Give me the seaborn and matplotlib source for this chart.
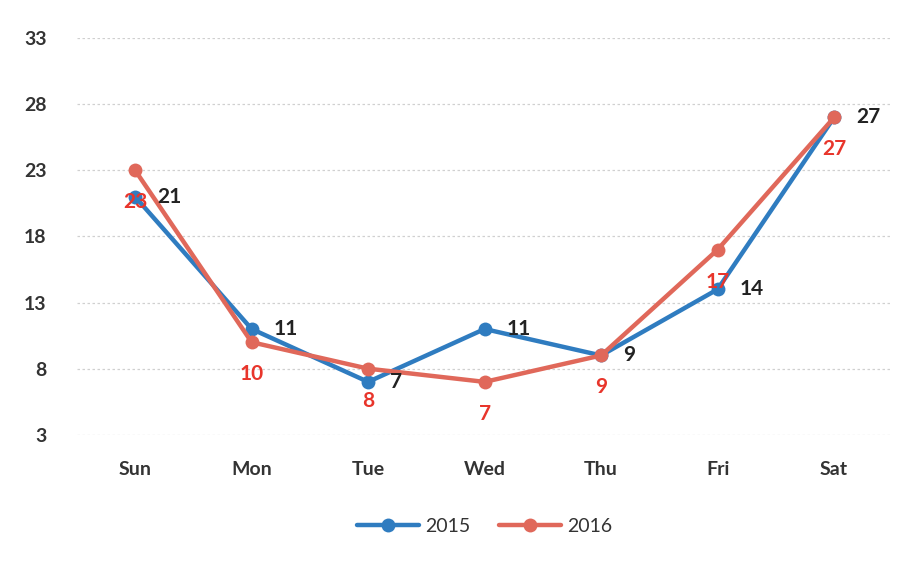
import matplotlib
matplotlib.use("Agg")
import matplotlib.pyplot as plt
import seaborn as sns
import pandas as pd

days = ["Sun", "Mon", "Tue", "Wed", "Thu", "Fri", "Sat"]
values_2015 = [21, 11, 7, 11, 9, 14, 27]
values_2016 = [23, 10, 8, 7, 9, 17, 27]
y_ticks = [3, 8, 13, 18, 23, 28, 33]

df = pd.DataFrame({
    "day": days * 2,
    "value": values_2015 + values_2016,
    "year": ["2015"] * len(days) + ["2016"] * len(days),
})

sns.set_theme(style="white")
plt.rcParams["font.family"] = ["Lato", "DejaVu Sans"]

fig = plt.figure(figsize=(9.05, 5.61), dpi=100)
ax = fig.add_axes([0.085, 0.225, 0.901, 0.707])

palette = {"2015": "#2f7cc0", "2016": "#e0685a"}
sns.lineplot(data=df, x="day", y="value", hue="year", palette=palette,
             marker="o", markersize=10, markeredgewidth=0, linewidth=3.2,
             sort=False, ax=ax)

ax.set_xlim(-0.5, len(days) - 0.5)
ax.set_ylim(3, 33)
ax.set_yticks(y_ticks)
ax.set_yticklabels([str(t) for t in y_ticks])
ax.set_xlabel("")
ax.set_ylabel("")
ax.grid(axis="y", color="#d0d0d0", linestyle=(0, (2, 2)), linewidth=0.9)
ax.grid(axis="x", visible=False)
for s in ax.spines.values():
    s.set_visible(False)
ax.tick_params(axis="y", length=0, pad=22, labelsize=14, labelcolor="#333333")
ax.tick_params(axis="x", length=0, pad=19, labelsize=14, labelcolor="#333333")
for lbl in ax.get_xticklabels() + ax.get_yticklabels():
    lbl.set_fontweight("bold")

# value labels: 2015 to the right of each point, 2016 below
for i, v in enumerate(values_2015):
    ax.annotate(str(v), (i, v), xytext=(16, 0), textcoords="offset points",
                ha="left", va="center", fontsize=15, fontweight="bold",
                color="#222222")
for i, v in enumerate(values_2016):
    ax.annotate(str(v), (i, v), xytext=(0, -23), textcoords="offset points",
                ha="center", va="center", fontsize=15, fontweight="bold",
                color="#e8352b")

leg = ax.legend(loc="upper center", bbox_to_anchor=(0.5, -0.165), ncol=2,
                frameon=False, fontsize=14, handlelength=3.2,
                columnspacing=1.5, handletextpad=0.3)
for t in leg.get_texts():
    t.set_color("#333333")

fig.savefig("out.png", dpi=100, facecolor="white")
